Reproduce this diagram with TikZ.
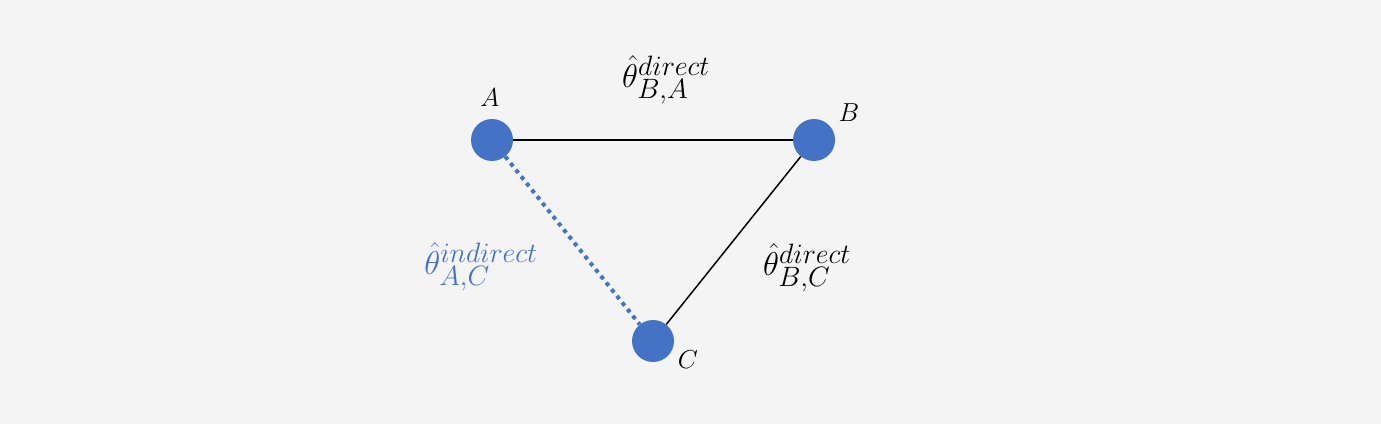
\RequirePackage{fix-cm}
\documentclass[tikz,border=0pt]{standalone}
\usepackage{amsmath}
\DeclareMathSizes{33}{33}{28}{20}
\definecolor{bg}{HTML}{F4F4F4}
\definecolor{nodeblue}{HTML}{4472C4}
\begin{document}
\begin{tikzpicture}[x=1pt,y=1pt,
  vert/.style={circle,fill=nodeblue,minimum size=42pt,inner sep=0pt},
  lbl/.style={font=\fontsize{26}{30}\selectfont,inner sep=0pt},
  tlbl/.style={font=\fontsize{33}{40}\selectfont,inner sep=0pt},
  direct/.style={draw=black,line width=1.5pt},
  indirect/.style={draw=nodeblue,line width=4pt,dash pattern=on 4pt off 4.5pt}]
\fill[bg] (0,0) rectangle (1381,424);
\useasboundingbox (0,0) rectangle (1381,424);
\node[vert] (A) at (492,284) {};
\node[vert] (B) at (814,284) {};
\node[vert] (C) at (653,83) {};
\node[lbl] (la) at (490,326) {$A$};
\node[lbl] (lb) at (849,311) {$B$};
\node[lbl] (lc) at (688,64) {$C$};
\draw[direct] (A) -- (B);
\draw[direct] (B) -- (C);
\draw[indirect] (A) -- (C);
\node[tlbl] (tba) at (666,344) {$\hat{\theta}^{direct}_{B,A}$};
\node[tlbl] (tbc) at (807,156) {$\hat{\theta}^{direct}_{B,C}$};
\node[tlbl,text=nodeblue] (tac) at (481,157) {$\hat{\theta}^{indirect}_{A,C}$};
\end{tikzpicture}
\end{document}
